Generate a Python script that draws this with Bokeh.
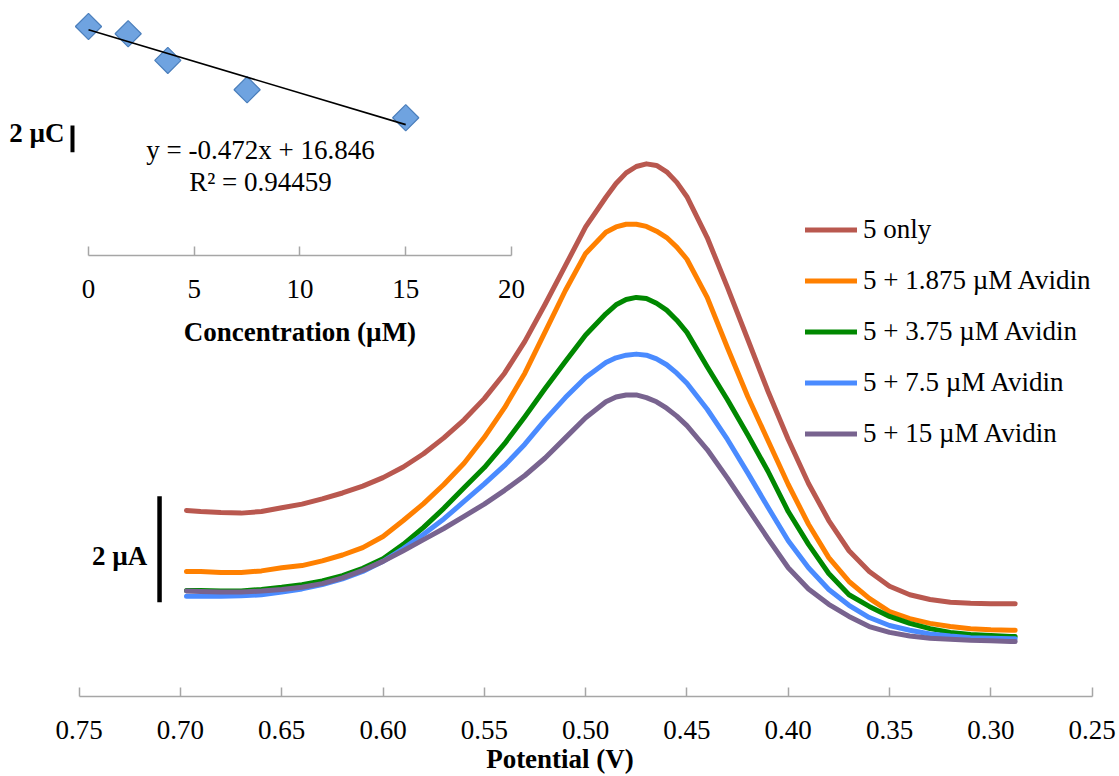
import numpy as np
from bokeh.plotting import figure
from bokeh.models import (Range1d, LinearAxis, Legend, LegendItem, FixedTicker,
                          Label, PrintfTickFormatter)
from bokeh.embed import file_html
from bokeh.resources import INLINE

# ---------------- data ----------------
potential = [0.697, 0.69, 0.68, 0.67, 0.66, 0.65, 0.64, 0.63, 0.62, 0.61, 0.60, 0.59,
             0.58, 0.57, 0.56, 0.55, 0.54, 0.53, 0.52, 0.51, 0.50, 0.49, 0.485, 0.48,
             0.475, 0.47, 0.465, 0.46, 0.455, 0.45, 0.44, 0.43, 0.42, 0.41, 0.40,
             0.39, 0.38, 0.37, 0.36, 0.35, 0.34, 0.33, 0.32, 0.31, 0.30, 0.29, 0.288]
i_5_only = [3.51, 3.49, 3.47, 3.46, 3.49, 3.56, 3.63, 3.73, 3.84, 3.97, 4.13, 4.33,
            4.58, 4.88, 5.22, 5.62, 6.10, 6.70, 7.40, 8.13, 8.86, 9.42, 9.68, 9.88,
            10.00, 10.05, 10.02, 9.90, 9.70, 9.43, 8.66, 7.72, 6.74, 5.76, 4.85,
            4.02, 3.32, 2.75, 2.36, 2.08, 1.92, 1.83, 1.78, 1.76, 1.75, 1.75, 1.75]
i_1875 = [2.36, 2.36, 2.34, 2.34, 2.37, 2.43, 2.47, 2.56, 2.67, 2.81, 3.02, 3.32,
          3.64, 4.00, 4.40, 4.89, 5.45, 6.10, 6.88, 7.66, 8.36, 8.76, 8.86, 8.91,
          8.91, 8.87, 8.78, 8.66, 8.48, 8.25, 7.53, 6.58, 5.66, 4.83, 4.00,
          3.25, 2.62, 2.17, 1.85, 1.60, 1.47, 1.38, 1.32, 1.28, 1.26, 1.25, 1.25]
i_375 = [2.00, 2.00, 1.99, 1.99, 2.02, 2.06, 2.11, 2.18, 2.28, 2.42, 2.60, 2.87,
         3.19, 3.55, 3.94, 4.32, 4.77, 5.28, 5.81, 6.32, 6.82, 7.22, 7.39, 7.49,
         7.53, 7.51, 7.42, 7.29, 7.10, 6.87, 6.22, 5.60, 4.94, 4.25, 3.49,
         2.87, 2.32, 1.92, 1.70, 1.51, 1.38, 1.28, 1.21, 1.17, 1.15, 1.13, 1.13]
i_75 = [1.89, 1.89, 1.89, 1.90, 1.92, 1.97, 2.03, 2.11, 2.22, 2.36, 2.55, 2.79,
        3.06, 3.35, 3.68, 4.01, 4.36, 4.76, 5.22, 5.64, 6.02, 6.30, 6.39, 6.44,
        6.46, 6.44, 6.37, 6.26, 6.10, 5.91, 5.42, 4.85, 4.22, 3.57, 2.94,
        2.43, 2.02, 1.72, 1.49, 1.34, 1.25, 1.18, 1.14, 1.11, 1.10, 1.09, 1.09]
i_15 = [1.99, 1.98, 1.97, 1.97, 1.99, 2.02, 2.06, 2.13, 2.24, 2.38, 2.55, 2.75,
        2.96, 3.17, 3.40, 3.63, 3.89, 4.17, 4.50, 4.88, 5.26, 5.56, 5.65, 5.69,
        5.69, 5.64, 5.56, 5.44, 5.29, 5.11, 4.66, 4.12, 3.55, 2.98, 2.43,
        2.03, 1.74, 1.51, 1.32, 1.21, 1.14, 1.10, 1.08, 1.06, 1.05, 1.04, 1.04]
series_labels = ["5 only", "5 + 1.875 µM Avidin", "5 + 3.75 µM Avidin",
                 "5 + 7.5 µM Avidin", "5 + 15 µM Avidin"]
potential_ticks = [0.75, 0.70, 0.65, 0.60, 0.55, 0.50, 0.45, 0.40, 0.35, 0.30, 0.25]

# inset: charge vs avidin concentration
concentration = [0, 1.875, 3.75, 7.5, 15]
charge = [17.09, 16.55, 14.56, 12.37, 10.28]
trend_slope = -0.472
trend_intercept = 16.846
r_squared = 0.94459
conc_ticks = [0, 5, 10, 15, 20]

# ---------------- styles ----------------
FONT = "Liberation Serif"
FS = "27px"
colors = ["#B9584F", "#FF8000", "#008800", "#4A8BFF", "#78638F"]
AXIS_GRAY = "#A6A6A6"

p = figure(frame_width=1119, frame_height=696, min_border=0,
           x_range=Range1d(0.7888, 0.2365), y_range=Range1d(0, 13.132),
           x_axis_type=None, y_axis_type=None,
           output_backend="svg", toolbar_location=None)
p.outline_line_color = None
p.background_fill_color = "white"
p.extra_x_ranges = {"conc": Range1d(-4.161, 48.75)}
p.extra_y_ranges = {"charge": Range1d(-32.91, 19.03)}


def style_axis(ax):
    ax.axis_line_color = AXIS_GRAY
    ax.axis_line_width = 1.5
    ax.major_tick_line_color = AXIS_GRAY
    ax.major_tick_line_width = 1.5
    ax.major_tick_in = 9
    ax.major_tick_out = 0
    ax.minor_tick_line_color = None
    ax.major_label_text_font = FONT
    ax.major_label_text_font_size = FS
    ax.major_label_text_color = "black"
    ax.major_label_standoff = 24
    ax.axis_label_text_font = FONT
    ax.axis_label_text_font_size = FS
    ax.axis_label_text_font_style = "bold"
    ax.axis_label_text_color = "black"
    ax.axis_label_standoff = 2


xaxis = LinearAxis(ticker=FixedTicker(ticks=potential_ticks), bounds=(0.25, 0.75),
                   axis_label="Potential (V)",
                   formatter=PrintfTickFormatter(format="%.2f"))
style_axis(xaxis)
p.add_layout(xaxis, "below")

inset_axis = LinearAxis(x_range_name="conc", y_range_name="charge", fixed_location=0,
                        ticker=FixedTicker(ticks=conc_ticks), bounds=(0, 20),
                        axis_label="Concentration (µM)")
style_axis(inset_axis)
inset_axis.axis_label_standoff = 16
p.add_layout(inset_axis, "below")

# ---------------- main voltammograms ----------------
renderers = []
for ys, c in zip([i_5_only, i_1875, i_375, i_75, i_15], colors):
    r = p.line(potential, ys, line_color=c, line_width=5, line_cap="round",
               line_join="round")
    renderers.append(r)

legend = Legend(items=[LegendItem(label=l, renderers=[r])
                       for l, r in zip(series_labels, renderers)],
                location=(805, 247), padding=0, margin=0, spacing=20,
                glyph_width=52, glyph_height=31, label_height=31,
                label_standoff=6, label_text_font=FONT, label_text_font_size=FS,
                label_text_color="black", border_line_color=None,
                background_fill_alpha=0)
p.add_layout(legend, "center")

# 2 µA scale bar
p.segment(x0=[0.7103], y0=[1.78], x1=[0.7103], y1=[3.78], line_color="black",
          line_width=4.5)
p.add_layout(Label(x=0.7164, y=2.66, text="2 µA", text_align="right",
                   text_baseline="middle", text_font=FONT, text_font_size=FS,
                   text_font_style="bold", text_color="black"))

# ---------------- inset ----------------
p.scatter(concentration, charge, x_range_name="conc", y_range_name="charge",
          marker="square", angle=np.pi / 4, size=18.5, fill_color="#6FA3E0",
          line_color="#4A7EBB", line_width=1.2)
cx = np.array([min(concentration), max(concentration)])
p.line(cx, trend_slope * cx + trend_intercept, x_range_name="conc",
       y_range_name="charge", line_color="black", line_width=1.6)

p.add_layout(Label(x=8.13, y=7.91, x_range_name="conc", y_range_name="charge",
                   text=f"y = {trend_slope}x + {trend_intercept}", text_align="center",
                   text_baseline="middle", text_font=FONT, text_font_size=FS,
                   text_color="black"))
p.add_layout(Label(x=8.13, y=5.45, x_range_name="conc", y_range_name="charge",
                   text=f"R² = {r_squared}", text_align="center",
                   text_baseline="middle", text_font=FONT, text_font_size=FS,
                   text_color="black"))

# 2 µC scale bar
p.segment(x0=[-0.757], y0=[7.71], x1=[-0.757], y1=[9.71], x_range_name="conc",
          y_range_name="charge", line_color="black", line_width=4)
p.add_layout(Label(x=-1.135, y=9.11, x_range_name="conc", y_range_name="charge",
                   text="2 µC", text_align="right", text_baseline="middle",
                   text_font=FONT, text_font_size=FS, text_font_style="bold",
                   text_color="black"))

open("out.html", "w").write(file_html(p, INLINE))
